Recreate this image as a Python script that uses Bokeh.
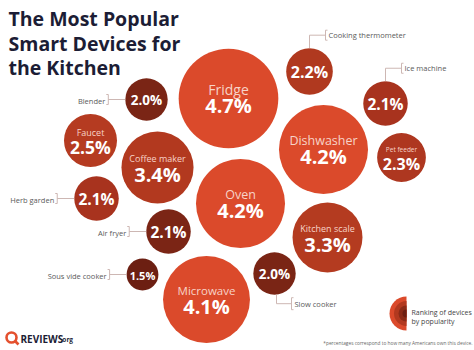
import math
from bokeh.plotting import figure
from bokeh.models import Range1d, ColumnDataSource
from bokeh.core.properties import value
from bokeh.embed import file_html
from bokeh.resources import INLINE

# ---- data ----
devices = ["Fridge", "Dishwasher", "Oven", "Microwave", "Coffee maker", "Kitchen scale",
           "Faucet", "Pet feeder", "Cooking thermometer", "Ice machine", "Herb garden",
           "Air fryer", "Blender", "Slow cooker", "Sous vide cooker"]
share = [4.7, 4.2, 4.2, 4.1, 3.4, 3.3, 2.5, 2.3, 2.2, 2.1, 2.1, 2.1, 2.0, 2.0, 1.5]
pos_x = [228, 323, 240, 206, 157, 327, 90, 401, 309, 385, 96, 168, 146, 274, 142]
pos_y = [98, 149, 203, 299, 167, 237, 140, 157, 71, 103, 198, 231, 99, 273, 274]
fill = ["#db4a2b", "#db4a2b", "#db4a2b", "#db4a2b", "#b2391f", "#b43b20",
        "#b53b21", "#ae3720", "#b0391f", "#a8331e", "#a8331e",
        "#7b2515", "#7a2515", "#7a2515", "#6c1f12"]
label_inside = [True, True, True, True, True, True, True, True,
                False, False, False, False, False, False, False]
# side of the outside label: "left", "top", "bottom"
label_side = ["", "", "", "", "", "", "", "", "top", "top", "left", "left", "left", "bottom", "left"]

title_lines = ["The Most Popular", "Smart Devices for", "the Kitchen"]
footnote = "*percentages correspond to how many Americans own this device."
legend_text = ["Ranking of devices", "by popularity"]

W, H = 474, 350
K = 10.6  # pixels of radius per percentage point

p = figure(width=W, height=H, x_range=Range1d(0, W), y_range=Range1d(H, 0),
           output_backend="svg", toolbar_location=None, min_border=0)
p.axis.visible = False
p.grid.visible = False
p.outline_line_color = None
p.background_fill_color = "white"
p.border_fill_color = "white"

radius = [v * K for v in share]
src = ColumnDataSource(dict(x=pos_x, y=pos_y, r=radius, c=fill))
p.circle(x="x", y="y", radius="r", fill_color="c", line_color=None, source=src)

# value font size from value
def vsize(v):
    if v >= 3.3:
        return 20
    if v >= 2.5:
        return 17.5
    if v >= 2.2:
        return 16
    if v >= 2.1:
        return 15.5
    if v >= 2.0:
        return 13.5
    return 11

name_size = {"Fridge": 14, "Dishwasher": 12.5, "Oven": 12.5, "Microwave": 11.5,
             "Coffee maker": 9, "Kitchen scale": 9, "Faucet": 9, "Pet feeder": 6.5}

vx, vy, vt, vf = [], [], [], []
nx, ny, nt, nf = [], [], [], []
for d, v, x, y, ins in zip(devices, share, pos_x, pos_y, label_inside):
    vx.append(x)
    vt.append(f"{v:.1f}%")
    vf.append(f"{vsize(v)}px")
    if ins:
        big = v >= 3.3
        vy.append(y + (7 if big else 6))
        nx.append(x)
        ny.append(y - (9 if big else 8))
        nt.append(d)
        nf.append(f"{name_size[d]}px")
    else:
        vy.append(y + 0.5)

p.text(x=vx, y=vy, text=vt, text_font=value("Open Sans"), text_font_style="bold",
       text_font_size=vf, text_color="white", text_align="center", text_baseline="middle")
p.text(x=nx, y=ny, text=nt, text_font=value("Open Sans"),
       text_font_size=nf, text_color="#f7d3c8", text_align="center", text_baseline="middle")

# outside labels with connectors
lx, ly, lt, la = [], [], [], []
cxs, cys = [], []
for d, v, x, y, side in zip(devices, share, pos_x, pos_y, label_side):
    r = v * K
    if side == "left":
        bx = x - r - 17
        cxs.append([bx - 2, bx, bx, bx - 2]); cys.append([y - 5, y - 5, y + 5, y + 5])
        cxs.append([bx, x - r]); cys.append([y, y])
        lx.append(bx - 3); ly.append(y + 1); lt.append(d); la.append("right")
    elif side == "top":
        top = y - r
        ty = top - 13
        bx = x + 16
        cxs.append([x, x, bx]); cys.append([top, ty, ty])
        cxs.append([bx + 2, bx, bx, bx + 2]); cys.append([ty - 5, ty - 5, ty + 5, ty + 5])
        lx.append(bx + 3); ly.append(ty); lt.append(d); la.append("left")
    elif side == "bottom":
        bot = y + r
        ty = bot + 9
        bx = x + 17
        cxs.append([x + 2, x + 2, bx]); cys.append([bot, ty, ty])
        cxs.append([bx + 2, bx, bx, bx + 2]); cys.append([ty - 6, ty - 6, ty + 6, ty + 6])
        lx.append(bx + 3); ly.append(ty); lt.append(d); la.append("left")

p.multi_line(xs=cxs, ys=cys, line_color="#cdb7b3", line_width=1)
p.text(x=lx, y=ly, text=lt, text_font=value("Open Sans"), text_font_size="7.5px",
       text_color="#5a5a5a", text_align=la, text_baseline="middle")

# title
p.text(x=[8] * 3, y=[18, 42.5, 67], text=title_lines, text_font=value("Open Sans"),
       text_font_style="bold", text_font_size="19.5px", text_color="#1c1d35",
       text_align="left", text_baseline="middle")

# legend: concentric half discs
lcx, lcy = 406, 313
for rr, col in zip([17, 12.5, 8, 4], ["#db4a2b", "#b2391f", "#8b2b17", "#6c1f12"]):
    p.wedge(x=[lcx], y=[lcy], radius=rr, start_angle=math.pi / 2, end_angle=3 * math.pi / 2,
            fill_color=col, line_color=None)
p.text(x=[411, 411], y=[312, 320.5], text=legend_text, text_font=value("Open Sans"),
       text_font_size="7px", text_color="#444444", text_align="left", text_baseline="middle")

p.text(x=[472], y=[342], text=[footnote], text_font=value("Open Sans"),
       text_font_size="4.8px", text_color="#666666", text_align="right", text_baseline="middle")

# logo
p.circle(x=[11], y=[337], radius=5, fill_color=None, line_color="#e4502e", line_width=2.6)
p.segment(x0=[14], y0=[340], x1=[18], y1=[344], line_color="#e4502e", line_width=2.6)
p.text(x=[20], y=[338], text=["REVIEWS"], text_font=value("Open Sans"), text_font_style="bold",
       text_font_size="10px", text_color="#1c1d35", text_align="left", text_baseline="middle")
p.text(x=[60], y=[339], text=[".org"], text_font=value("Open Sans"), text_font_style="bold",
       text_font_size="6.5px", text_color="#1c1d35", text_align="left", text_baseline="middle")

open("out.html", "w").write(file_html(p, INLINE))
